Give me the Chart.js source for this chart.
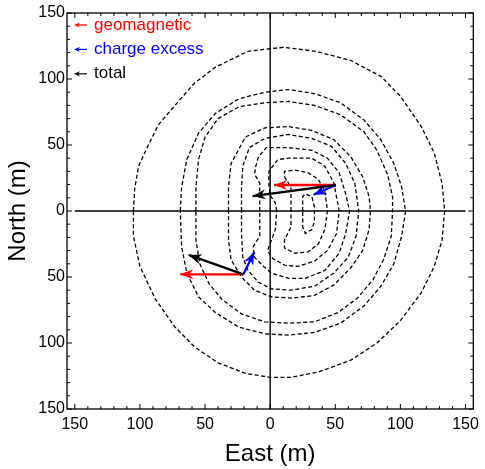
<!DOCTYPE html>
<html>
<head>
<meta charset="utf-8">
<script src="https://cdn.jsdelivr.net/npm/chart.js@4"></script>
<style>
body { margin: 0; background: #fff; }
</style>
</head>
<body>
<canvas id="chart" width="485" height="469"></canvas>
<script>
// axis ticks: marks every 10 m, labels every 50 m (shown without sign)
const majorTicks = [-150, -100, -50, 0, 50, 100, 150];
const majorLabels = ['150', '100', '50', '0', '50', '100', '150'];
const minorTicks = [-150, -140, -130, -120, -110, -100, -90, -80, -70, -60, -50, -40, -30, -20, -10,
    0, 10, 20, 30, 40, 50, 60, 70, 80, 90, 100, 110, 120, 130, 140, 150];

// contour lines, [east, north] in m, outermost first
const contour1 = [[-105,0],[-104,17],[-101,34],[-94,49],[-86,65],[-74,79],[-58,97],[-42,109],[-17,121],[10,124],[35,121],[62,114],[85,102],[100,87],[116,64],[126,44],[132,21],[134,0],[132,-22],[126,-42],[116,-62],[100,-83],[82,-100],[62,-113],[37,-122],[16,-126],[0,-126],[-19,-123],[-40,-115],[-58,-103],[-73,-88],[-88,-67],[-100,-42],[-105,-19]];
const contour2 = [[-69,0],[-68,18],[-64,39],[-55,59],[-42,74],[-24,85],[-4,90],[14,92],[34,89],[54,82],[72,69],[85,54],[95,36],[101,18],[104,0],[101,-19],[95,-40],[85,-57],[72,-72],[54,-85],[34,-92],[14,-94],[-4,-93],[-24,-88],[-42,-77],[-55,-65],[-64,-47],[-68,-27]];
const contour3 = [[-57,0],[-57,18],[-55,39],[-50,56],[-40,70],[-24,79],[-4,82],[14,83],[34,80],[54,73],[72,60],[82,46],[90,28],[94,11],[94,0],[93,-19],[87,-37],[79,-52],[67,-66],[52,-77],[34,-84],[14,-85],[-4,-84],[-22,-78],[-37,-67],[-47,-55],[-54,-40],[-57,-22]];
const contour4 = [[-32,0],[-32,18],[-30,36],[-19,56],[-4,63],[14,64],[32,61],[49,54],[62,41],[71,26],[76,11],[77,0],[76,-14],[71,-30],[62,-43],[49,-56],[34,-64],[16,-66],[1,-65],[-12,-60],[-22,-50],[-30,-37],[-32,-22]];
const contour5 = [[-22,0],[-22,18],[-21,34],[-16,48],[-4,55],[14,58],[32,55],[47,49],[58,36],[65,21],[68,0],[66,-19],[60,-35],[49,-47],[34,-57],[16,-60],[1,-59],[-9,-54],[-17,-45],[-21,-35],[-22,-17]];
const contour6 = [[-8,0],[-8,21],[-12,28],[-11,34],[-9,41],[-3,48],[14,48],[32,46],[44,40],[53,29],[58,13],[61,0],[58,-17],[53,-32],[42,-45],[27,-51],[14,-51],[1,-47],[-5,-42],[-12,-35],[-13,-27],[-8,-19]];
const contour7 = [[5,0],[4,6],[0,12],[-1,20],[-1,30],[6,39],[14,40],[32,40],[42,34],[49,21],[53,0],[51,-17],[44,-30],[34,-38],[21,-42],[11,-41],[2,-36],[-2,-30],[1,-22],[4,-14]];
const contour8 = [[16,0],[16,18],[11,26],[11,30],[19,31],[29,29],[37,24],[42,15],[44,0],[42,-14],[37,-25],[29,-31],[19,-32],[11,-28],[11,-22],[16,-12]];
const contour9 = [[25,0],[25,11],[27,13],[32,11],[34,3],[34,-8],[32,-14],[27,-17],[25,-12]];
const contours = [contour1, contour2, contour3, contour4, contour5, contour6, contour7, contour8, contour9];

// polarization vectors at two antenna positions
const arrowOrigins = [[50.5, 19.7], [-20.5, -48]];
const geoTips = [[3, 19.7], [-69, -48]];
const ceTips = [[33.3, 12.3], [-12.2, -31]];
const totalTips = [[-13.5, 11.3], [-62.6, -33.3]];

const legendLabels = ['geomagnetic', 'charge excess', 'total'];
const legendColors = ['#ff0000', '#0000ff', '#000000'];

const FONT = '"Liberation Sans", Arial, sans-serif';

function toPoints(list) {
    const pts = list.map(p => ({ x: p[0], y: p[1] }));
    pts.push({ x: list[0][0], y: list[0][1] });
    return pts;
}

const datasets = [];

contours.forEach(c => {
    datasets.push({
        data: toPoints(c),
        showLine: true,
        borderColor: '#000',
        borderWidth: 1.3,
        borderDash: [4, 2.5],
        pointRadius: 0,
        tension: 0,
        order: 10
    });
});

// cross hairs through the shower core
datasets.push({
    data: [{ x: -150, y: 0 }, { x: 150, y: 0 }],
    showLine: true, borderColor: '#000', borderWidth: 1.4, pointRadius: 0, order: 9
});
datasets.push({
    data: [{ x: 0, y: -150 }, { x: 0, y: 150 }],
    showLine: true, borderColor: '#000', borderWidth: 1.4, pointRadius: 0, order: 9
});

[geoTips, ceTips, totalTips].forEach((tips, k) => {
    tips.forEach((t, i) => {
        datasets.push({
            data: [{ x: arrowOrigins[i][0], y: arrowOrigins[i][1] }, { x: t[0], y: t[1] }],
            showLine: true,
            borderColor: legendColors[k],
            borderWidth: 2.3,
            pointRadius: 0,
            arrow: true,
            order: 3 - k
        });
    });
});

function drawHead(ctx, x0, y0, x1, y1, len, half, color) {
    const ang = Math.atan2(y1 - y0, x1 - x0);
    ctx.save();
    ctx.translate(x1, y1);
    ctx.rotate(ang);
    ctx.beginPath();
    ctx.moveTo(0, 0);
    ctx.lineTo(-len, -half);
    ctx.lineTo(-len * 0.68, 0);
    ctx.lineTo(-len, half);
    ctx.closePath();
    ctx.fillStyle = color;
    ctx.fill();
    ctx.restore();
}

const arrowPlugin = {
    id: 'arrowHeads',
    afterDatasetDraw(chart, args) {
        const ds = chart.data.datasets[args.index];
        if (!ds.arrow) return;
        const p = args.meta.data;
        drawHead(chart.ctx, p[0].x, p[0].y, p[1].x, p[1].y, 13, 5, ds.borderColor);
    }
};

const framePlugin = {
    id: 'frame',
    afterDatasetsDraw(chart) {
        const { ctx, chartArea: a, scales: { x, y } } = chart;
        ctx.save();
        ctx.strokeStyle = '#000';
        ctx.lineWidth = 1;
        minorTicks.forEach(v => {
            const len = majorTicks.includes(v) ? 5 : 3;
            const px = x.getPixelForValue(v);
            const py = y.getPixelForValue(v);
            ctx.beginPath();
            ctx.moveTo(px, a.bottom); ctx.lineTo(px, a.bottom - len);
            ctx.moveTo(px, a.top); ctx.lineTo(px, a.top + len);
            ctx.moveTo(a.left, py); ctx.lineTo(a.left + len, py);
            ctx.moveTo(a.right, py); ctx.lineTo(a.right - len, py);
            ctx.stroke();
        });
        ctx.lineWidth = 1.3;
        ctx.strokeRect(a.left, a.top, a.right - a.left, a.bottom - a.top);
        ctx.restore();
    }
};

const legendPlugin = {
    id: 'arrowLegend',
    afterDraw(chart) {
        const { ctx, chartArea: a } = chart;
        ctx.save();
        ctx.font = '17px ' + FONT;
        ctx.textBaseline = 'middle';
        legendLabels.forEach((label, i) => {
            const y = a.top + 12 + i * 24.4;
            ctx.strokeStyle = legendColors[i];
            ctx.lineWidth = 1.2;
            ctx.beginPath();
            ctx.moveTo(a.left + 20, y);
            ctx.lineTo(a.left + 10, y);
            ctx.stroke();
            drawHead(ctx, a.left + 20, y, a.left + 7, y, 6, 2.6, legendColors[i]);
            ctx.fillStyle = legendColors[i];
            ctx.fillText(label, a.left + 27, y);
        });
        ctx.restore();
    }
};

new Chart(document.getElementById('chart'), {
    type: 'scatter',
    data: { datasets },
    plugins: [arrowPlugin, framePlugin, legendPlugin],
    options: {
        responsive: false,
        animation: false,
        layout: { padding: { top: 13, right: 8, left: 0, bottom: 0 } },
        plugins: { legend: { display: false }, tooltip: { enabled: false } },
        scales: {
            x: {
                type: 'linear',
                min: -156,
                max: 156,
                afterBuildTicks: s => { s.ticks = majorTicks.map(v => ({ value: v })); },
                afterFit: s => { s.height = 60; },
                grid: { display: false, drawTicks: false },
                border: { display: false },
                ticks: {
                    autoSkip: false,
                    maxRotation: 0,
                    padding: 6,
                    color: '#000',
                    font: { family: FONT, size: 16 },
                    callback: (v, i) => majorLabels[i]
                },
                title: { display: true, text: 'East (m)', color: '#000', font: { family: FONT, size: 24 }, padding: 0 }
            },
            y: {
                type: 'linear',
                min: -150,
                max: 150,
                afterBuildTicks: s => { s.ticks = majorTicks.map(v => ({ value: v })); },
                afterFit: s => { s.width = 67; },
                grid: { display: false, drawTicks: false },
                border: { display: false },
                ticks: {
                    autoSkip: false,
                    padding: 2,
                    color: '#000',
                    font: { family: FONT, size: 16 },
                    callback: (v, i) => majorLabels[i]
                },
                title: { display: true, text: 'North (m)', color: '#000', font: { family: FONT, size: 24 }, padding: { top: 4, bottom: 0 } }
            }
        }
    }
});
</script>
</body>
</html>
